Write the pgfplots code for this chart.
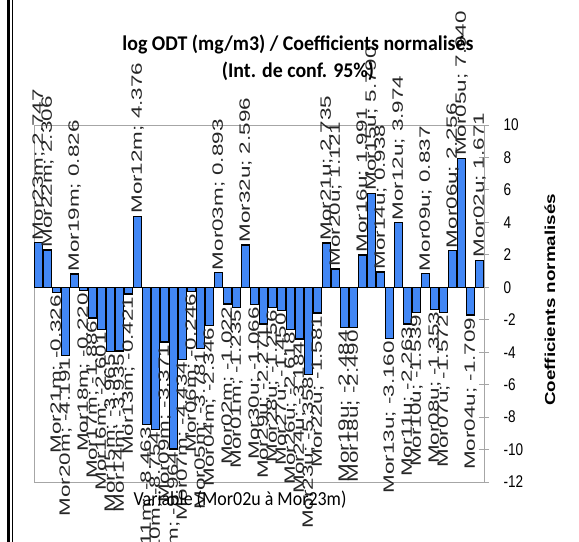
\documentclass[border=0pt]{standalone}
\usepackage{pgfplots}
\pgfplotsset{compat=1.18}
\usepackage{pgfplotstable}
\usepackage{fontspec}
\setmainfont{Liberation Sans}
\newfontfamily\lblfont[FakeStretch=1.5]{Liberation Sans}
\newfontfamily\tickfont[FakeStretch=0.8]{Liberation Sans}
\newfontfamily\titlefont[FakeStretch=0.95]{Carlito}
\newfontfamily\xlabfont[FakeStretch=0.9]{Carlito}
\newfontfamily\ylabfont[FakeStretch=1.3]{Liberation Sans}
\definecolor{barblue}{RGB}{66,135,245}

\pgfplotstableread{
x y lab
0 2.747 Mor23m
1 2.306 Mor22m
4 0.826 Mor19m
11 4.376 Mor12m
20 0.893 Mor03m
23 2.596 Mor32u
32 2.735 Mor21u
33 1.121 Mor20u
36 1.991 Mor16u
37 5.790 Mor15u
38 0.938 Mor14u
40 3.974 Mor12u
43 0.837 Mor09u
46 2.256 Mor06u
47 7.940 Mor05u
49 1.671 Mor02u
}\postab

\pgfplotstableread{
x y lab
2 -0.326 Mor21m
3 -4.191 Mor20m
5 -0.220 Mor18m
6 -1.886 Mor17m
7 -2.601 Mor16m
8 -3.965 Mor15m
9 -3.935 Mor14m
10 -0.421 Mor13m
12 -8.463 Mor11m
13 -8.754 Mor10m
14 -3.371 Mor09m
15 -9.964 Mor08m
16 -4.434 Mor07m
17 -0.246 Mor06m
18 -3.781 Mor05m
19 -2.346 Mor04m
21 -1.022 Mor02m
22 -1.235 Mor01m
24 -1.066 Mor30u
25 -2.271 Mor29u
26 -1.256 Mor28u
27 -1.450 Mor27u
28 -2.618 Mor26u
29 -3.184 Mor24u
30 -5.358 Mor23u
31 -1.581 Mor22u
34 -2.484 Mor19u
35 -2.490 Mor18u
39 -3.160 Mor13u
41 -2.263 Mor11u
42 -1.539 Mor10u
44 -1.353 Mor08u
45 -1.572 Mor07u
48 -1.709 Mor04u
}\negtab

\pgfplotsset{
  lblbars/.style={ybar, bar width=7.4bp, bar shift=0pt, fill=barblue, draw=black, line width=1.3pt,
    point meta=explicit symbolic,
    visualization depends on={y \as \yval},
    nodes near coords={{\pgfplotspointmeta; \pgfmathprintnumber[fixed, fixed zerofill, precision=3, assume math mode=true]{\yval}}},
  },
}

\begin{document}
\begin{tikzpicture}
\begin{axis}[
  at={(34bp,60bp)}, anchor=south west,
  scale only axis, width=450bp, height=357bp,
  xmin=-0.5, xmax=49.5, ymin=-12, ymax=10,
  xtick=\empty,
  ytick={-12,-10,...,10},
  ytick pos=right, yticklabel pos=right,
  tick align=center, major tick length=10bp,
  axis line style={draw=gray!70, line width=0.9pt},
  every tick/.style={gray!70, line width=0.9pt},
  yticklabel style={font=\tickfont\fontsize{17}{17}\selectfont, anchor=west, xshift=11bp, black},
  /pgf/number format/assume math mode=true,
  clip=false,
]
\draw[gray!70, line width=0.9pt] (axis cs:-0.5,0) -- (axis cs:49.5,0);
\addplot[lblbars,
  every node near coord/.style={rotate=90, anchor=west, inner sep=2bp, black!85,
    font=\lblfont\fontsize{15}{15}\selectfont}]
  table[x=x, y=y, meta=lab]{\postab};
\addplot[lblbars,
  every node near coord/.style={rotate=90, anchor=east, inner sep=2bp, black!85,
    font=\lblfont\fontsize{15}{15}\selectfont}]
  table[x=x, y=y, meta=lab]{\negtab};
\end{axis}
\node[font=\titlefont\bfseries\fontsize{21}{21}\selectfont] at (298bp,497bp) {log ODT (mg/m3) / Coefficients normalisés};
\node[font=\titlefont\bfseries\fontsize{21}{21}\selectfont] at (298bp,471bp) {(Int. de conf. 95\%)};
\node[font=\xlabfont\fontsize{20}{20}\selectfont] at (240bp,42bp) {Variable (Mor02u à Mor23m)};
\node[font=\ylabfont\bfseries\fontsize{14.5}{14.5}\selectfont, rotate=90] at (550bp,242bp) {Coefficients normalisés};
\draw[line width=2.6pt] (8.3bp,0) -- (8.3bp,542bp);
\draw[line width=0.8pt] (12bp,0) -- (12bp,542bp);
\pgfresetboundingbox
\useasboundingbox (0,0) rectangle (579bp,542bp);
\end{tikzpicture}
\end{document}
